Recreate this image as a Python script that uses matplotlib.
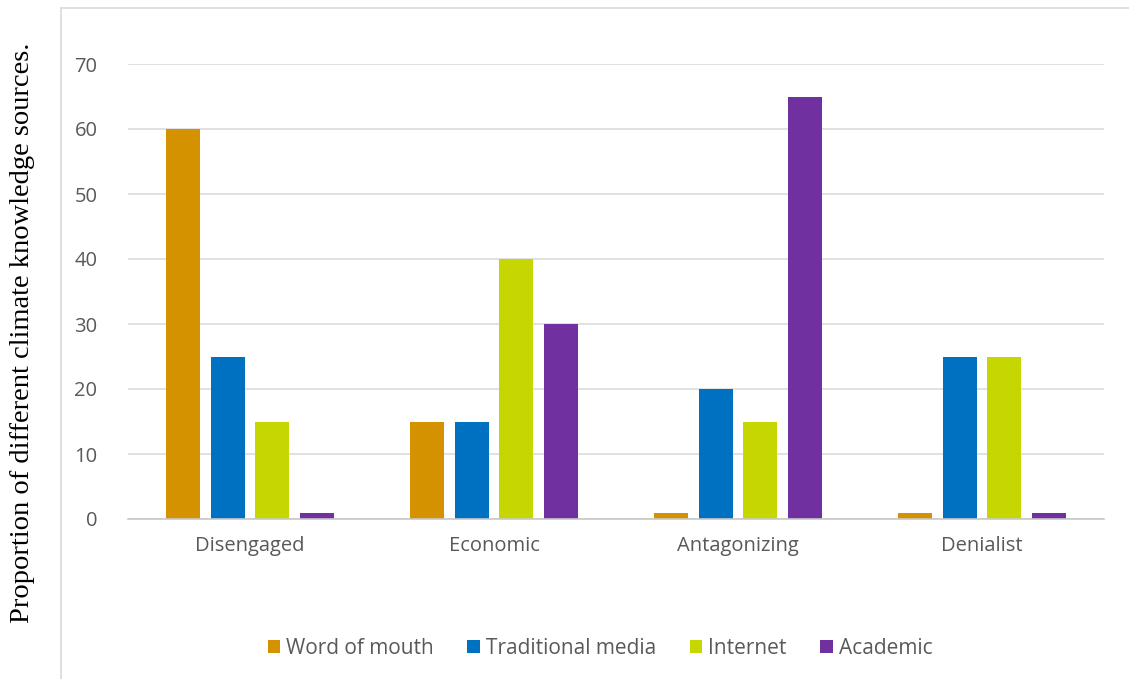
import matplotlib.pyplot as plt
from matplotlib.patches import Rectangle
import numpy as np

plt.rcParams['font.family'] = ['Open Sans', 'DejaVu Sans']

categories = ['Disengaged', 'Economic', 'Antagonizing', 'Denialist']
series = ['Word of mouth', 'Traditional media', 'Internet', 'Academic']
values = {
    'Word of mouth': [60, 15, 1, 1],
    'Traditional media': [25, 15, 20, 25],
    'Internet': [15, 40, 15, 25],
    'Academic': [1, 30, 65, 1],
}
colors = ['#D49100', '#0070C0', '#C5D600', '#7030A0']
yticks = [0, 10, 20, 30, 40, 50, 60, 70]

fig = plt.figure(figsize=(11.29, 6.79), dpi=100)
ax = fig.add_axes([128 / 1129, 1 - 519 / 679, (1104 - 128) / 1129, (519 - 64) / 679])

# outer chart frame
fig.patches.append(Rectangle((61 / 1129, -0.05), 1.0, 1.05 - 8 / 679, transform=fig.transFigure,
                             fill=False, edgecolor='#D9D9D9', linewidth=1.2, zorder=0))

x = np.arange(len(categories))
pitch = 0.182
width = 0.139
for i, (name, c) in enumerate(zip(series, colors)):
    ax.bar(x + (i - 1.5) * pitch, values[name], width, color=c, label=name, zorder=3)

ax.set_xlim(-0.5, 3.5)
ax.set_ylim(0, 70)
ax.set_yticks(yticks)
ax.set_xticks(x)
ax.set_xticklabels(categories)
ax.tick_params(axis='both', length=0, labelsize=14.5, labelcolor='#595959')
ax.tick_params(axis='x', pad=12)
ax.tick_params(axis='y', pad=22)
ax.grid(axis='y', color='#D9D9D9', linewidth=1.1, zorder=0)
for s in ['top', 'right', 'left']:
    ax.spines[s].set_visible(False)
ax.spines['bottom'].set_color('#C8C8C8')
ax.spines['bottom'].set_linewidth(1.2)
ax.spines['bottom'].set_zorder(4)

fig.text(23 / 1129, 1 - 333 / 679, 'Proportion of different climate knowledge sources.',
         rotation=90, va='center', ha='center', fontsize=20.5, family='Liberation Serif')

fig.legend(loc='center', bbox_to_anchor=(600 / 1129, 1 - 648 / 679), ncol=4, frameon=False,
           fontsize=15, handlelength=0.6, handleheight=0.6, handletextpad=0.3,
           columnspacing=1.6, labelcolor='#595959')

fig.savefig('out.png', dpi=100)
